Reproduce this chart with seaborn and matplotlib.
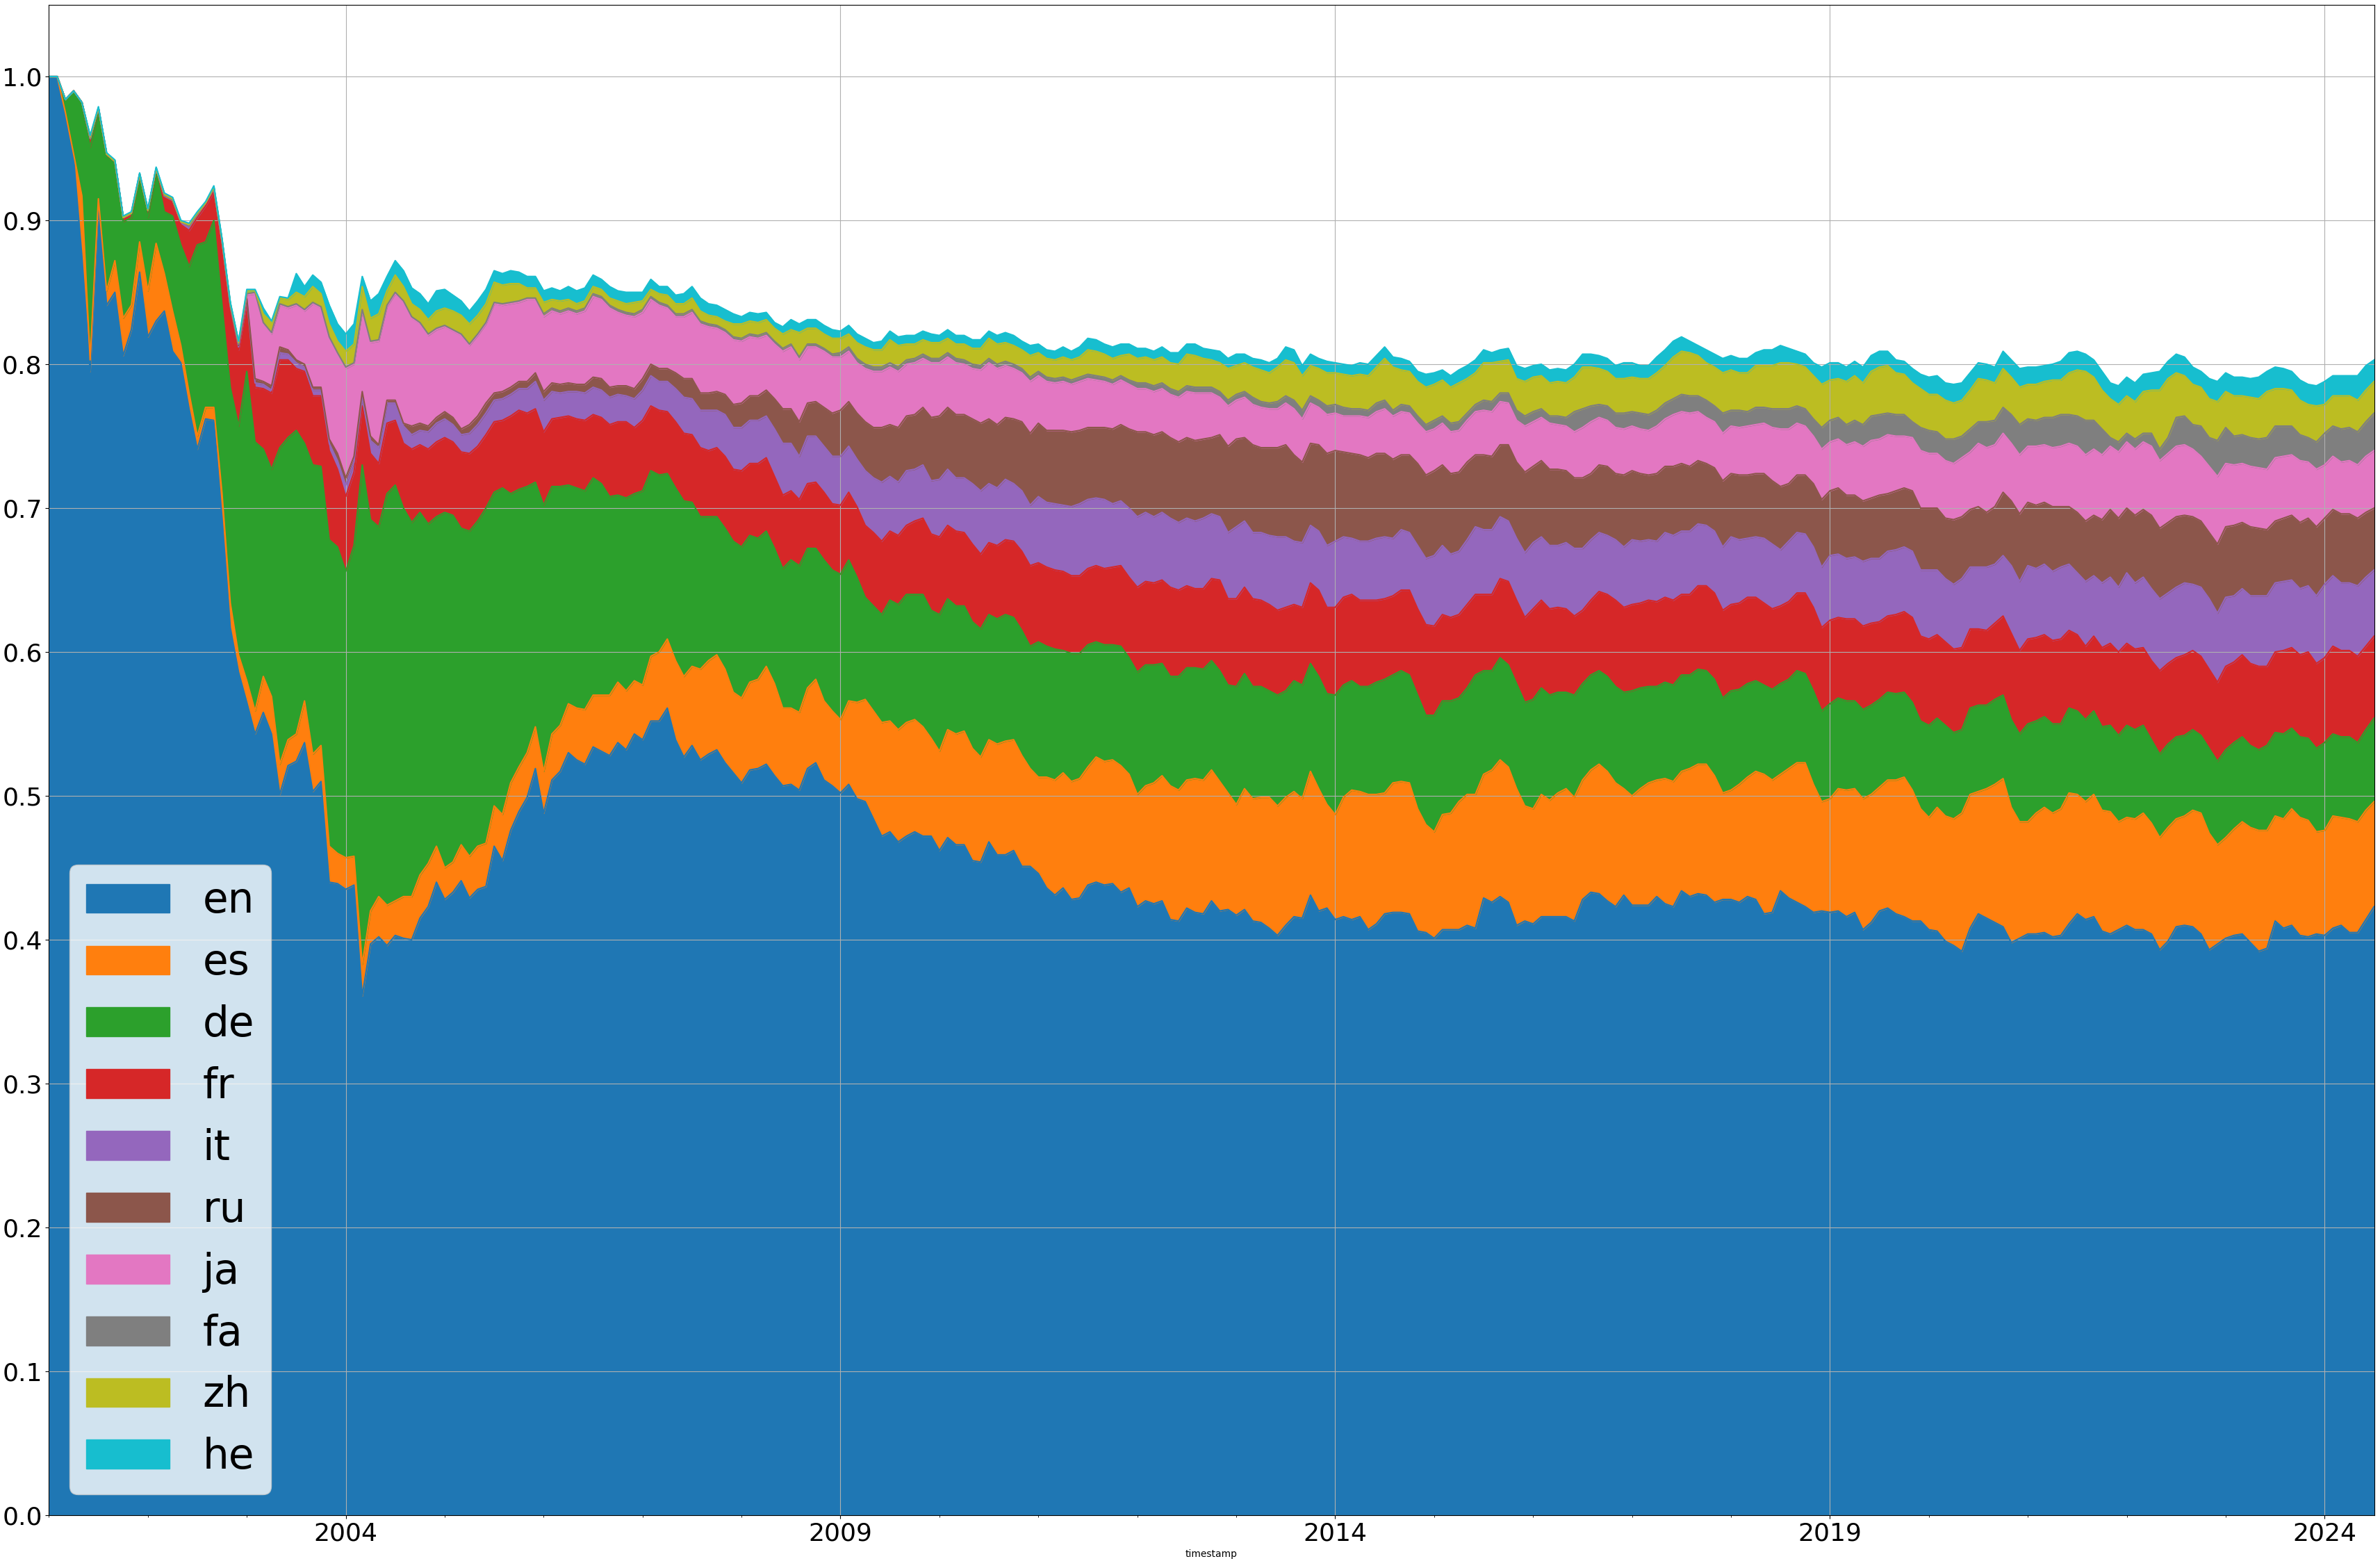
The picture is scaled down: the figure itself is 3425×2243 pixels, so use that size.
import numpy as np
import pandas as pd
import matplotlib
matplotlib.use("Agg")
import matplotlib.pyplot as plt
import matplotlib.patches as mpatches
from matplotlib.ticker import MultipleLocator
import seaborn as sns

# === DATI ===
# Livelli cumulativi (bordo superiore di ogni strato), un mese per valore,
# da gennaio 2001 a luglio 2024: una riga per anno.
languages = ["en", "es", "de", "fr", "it", "ru", "ja", "fa", "zh", "he"]
start_month = "2001-01-01"

en_top = [
    1.000, 1.000, 0.973, 0.943, 0.875, 0.795, 0.913, 0.841, 0.850, 0.806, 0.824, 0.864,
    0.819, 0.830, 0.837, 0.809, 0.801, 0.769, 0.741, 0.762, 0.761, 0.693, 0.617, 0.586,
    0.565, 0.543, 0.558, 0.543, 0.501, 0.521, 0.524, 0.537, 0.503, 0.510, 0.440, 0.439,
    0.435, 0.438, 0.361, 0.397, 0.402, 0.396, 0.403, 0.401, 0.400, 0.415, 0.423, 0.440,
    0.428, 0.433, 0.441, 0.429, 0.435, 0.437, 0.465, 0.455, 0.476, 0.489, 0.499, 0.519,
    0.488, 0.511, 0.517, 0.530, 0.525, 0.522, 0.534, 0.531, 0.528, 0.537, 0.532, 0.543,
    0.539, 0.552, 0.552, 0.561, 0.539, 0.527, 0.535, 0.525, 0.529, 0.532, 0.523, 0.516,
    0.509, 0.518, 0.519, 0.522, 0.514, 0.507, 0.508, 0.504, 0.519, 0.523, 0.511, 0.507,
    0.502, 0.508, 0.498, 0.496, 0.484, 0.472, 0.475, 0.468, 0.472, 0.475, 0.472, 0.472,
    0.462, 0.471, 0.466, 0.466, 0.455, 0.454, 0.468, 0.459, 0.459, 0.462, 0.451, 0.451,
    0.446, 0.436, 0.431, 0.436, 0.428, 0.429, 0.438, 0.440, 0.438, 0.439, 0.433, 0.436,
    0.423, 0.427, 0.425, 0.427, 0.414, 0.413, 0.422, 0.419, 0.418, 0.427, 0.420, 0.421,
    0.417, 0.421, 0.413, 0.412, 0.408, 0.403, 0.410, 0.416, 0.415, 0.431, 0.420, 0.422,
    0.414, 0.416, 0.414, 0.416, 0.407, 0.411, 0.418, 0.419, 0.419, 0.418, 0.406, 0.405,
    0.401, 0.407, 0.407, 0.407, 0.410, 0.408, 0.429, 0.426, 0.430, 0.426, 0.410, 0.413,
    0.411, 0.416, 0.416, 0.416, 0.416, 0.413, 0.428, 0.433, 0.432, 0.427, 0.423, 0.431,
    0.424, 0.424, 0.424, 0.430, 0.425, 0.423, 0.434, 0.430, 0.432, 0.431, 0.426, 0.428,
    0.428, 0.426, 0.430, 0.428, 0.418, 0.419, 0.434, 0.429, 0.426, 0.423, 0.419, 0.420,
    0.419, 0.420, 0.416, 0.419, 0.407, 0.412, 0.420, 0.422, 0.418, 0.416, 0.413, 0.413,
    0.407, 0.406, 0.399, 0.396, 0.392, 0.408, 0.418, 0.415, 0.412, 0.409, 0.398, 0.401,
    0.404, 0.404, 0.405, 0.402, 0.403, 0.411, 0.418, 0.414, 0.416, 0.406, 0.404, 0.407,
    0.410, 0.407, 0.407, 0.404, 0.393, 0.399, 0.409, 0.410, 0.409, 0.404, 0.393, 0.397,
    0.401, 0.403, 0.404, 0.398, 0.392, 0.394, 0.413, 0.408, 0.410, 0.403, 0.402, 0.404,
    0.403, 0.408, 0.410, 0.405, 0.405, 0.414, 0.423,
]

es_top = [
    1.000, 1.000, 0.975, 0.946, 0.917, 0.803, 0.915, 0.851, 0.872, 0.832, 0.841, 0.885,
    0.851, 0.884, 0.863, 0.837, 0.813, 0.780, 0.750, 0.770, 0.770, 0.710, 0.634, 0.598,
    0.580, 0.559, 0.583, 0.569, 0.522, 0.539, 0.543, 0.566, 0.529, 0.535, 0.465, 0.460,
    0.457, 0.458, 0.383, 0.420, 0.430, 0.424, 0.427, 0.430, 0.430, 0.445, 0.453, 0.465,
    0.450, 0.454, 0.466, 0.458, 0.465, 0.467, 0.493, 0.487, 0.509, 0.520, 0.530, 0.548,
    0.517, 0.543, 0.549, 0.564, 0.561, 0.560, 0.570, 0.570, 0.570, 0.579, 0.573, 0.580,
    0.577, 0.597, 0.600, 0.609, 0.594, 0.583, 0.590, 0.588, 0.594, 0.598, 0.588, 0.572,
    0.568, 0.579, 0.581, 0.590, 0.578, 0.561, 0.561, 0.558, 0.575, 0.581, 0.566, 0.559,
    0.553, 0.566, 0.565, 0.567, 0.559, 0.551, 0.552, 0.546, 0.551, 0.553, 0.548, 0.540,
    0.531, 0.546, 0.543, 0.545, 0.533, 0.527, 0.539, 0.536, 0.538, 0.539, 0.528, 0.519,
    0.513, 0.513, 0.511, 0.516, 0.510, 0.512, 0.520, 0.527, 0.524, 0.525, 0.521, 0.515,
    0.501, 0.507, 0.509, 0.514, 0.507, 0.504, 0.511, 0.512, 0.511, 0.518, 0.510, 0.502,
    0.494, 0.505, 0.498, 0.499, 0.499, 0.493, 0.499, 0.503, 0.498, 0.517, 0.505, 0.494,
    0.487, 0.499, 0.504, 0.503, 0.501, 0.501, 0.502, 0.509, 0.510, 0.509, 0.491, 0.480,
    0.475, 0.487, 0.488, 0.496, 0.501, 0.501, 0.515, 0.518, 0.525, 0.520, 0.505, 0.493,
    0.491, 0.501, 0.497, 0.502, 0.505, 0.499, 0.511, 0.518, 0.522, 0.517, 0.509, 0.505,
    0.500, 0.505, 0.509, 0.511, 0.512, 0.510, 0.517, 0.519, 0.522, 0.522, 0.514, 0.502,
    0.504, 0.508, 0.513, 0.517, 0.515, 0.511, 0.515, 0.519, 0.523, 0.523, 0.508, 0.496,
    0.498, 0.505, 0.504, 0.505, 0.498, 0.501, 0.506, 0.511, 0.511, 0.513, 0.504, 0.491,
    0.485, 0.492, 0.486, 0.484, 0.488, 0.501, 0.503, 0.505, 0.508, 0.512, 0.492, 0.482,
    0.482, 0.488, 0.492, 0.488, 0.491, 0.502, 0.501, 0.496, 0.501, 0.490, 0.489, 0.482,
    0.485, 0.484, 0.488, 0.481, 0.471, 0.478, 0.484, 0.486, 0.490, 0.488, 0.474, 0.466,
    0.471, 0.477, 0.482, 0.478, 0.476, 0.476, 0.486, 0.484, 0.491, 0.485, 0.483, 0.475,
    0.476, 0.486, 0.485, 0.484, 0.482, 0.490, 0.496,
]

de_top = [
    1.000, 1.000, 0.984, 0.990, 0.982, 0.951, 0.976, 0.944, 0.941, 0.899, 0.902, 0.932,
    0.902, 0.934, 0.906, 0.903, 0.883, 0.868, 0.883, 0.885, 0.900, 0.841, 0.784, 0.757,
    0.795, 0.746, 0.741, 0.727, 0.742, 0.749, 0.754, 0.745, 0.730, 0.729, 0.678, 0.673,
    0.656, 0.674, 0.730, 0.692, 0.687, 0.710, 0.716, 0.700, 0.690, 0.697, 0.689, 0.694,
    0.697, 0.695, 0.686, 0.684, 0.691, 0.700, 0.711, 0.714, 0.710, 0.713, 0.715, 0.718,
    0.702, 0.715, 0.715, 0.716, 0.714, 0.712, 0.721, 0.717, 0.708, 0.709, 0.707, 0.710,
    0.712, 0.726, 0.723, 0.724, 0.714, 0.705, 0.704, 0.694, 0.694, 0.694, 0.686, 0.677,
    0.673, 0.681, 0.679, 0.684, 0.672, 0.658, 0.664, 0.660, 0.672, 0.672, 0.664, 0.657,
    0.654, 0.664, 0.652, 0.638, 0.632, 0.626, 0.636, 0.633, 0.640, 0.640, 0.640, 0.629,
    0.626, 0.637, 0.632, 0.632, 0.621, 0.616, 0.626, 0.623, 0.626, 0.624, 0.615, 0.604,
    0.607, 0.604, 0.602, 0.601, 0.599, 0.599, 0.605, 0.607, 0.605, 0.605, 0.604, 0.596,
    0.586, 0.591, 0.591, 0.592, 0.583, 0.583, 0.589, 0.589, 0.588, 0.594, 0.587, 0.577,
    0.576, 0.585, 0.576, 0.576, 0.573, 0.570, 0.573, 0.580, 0.577, 0.592, 0.583, 0.571,
    0.570, 0.577, 0.580, 0.576, 0.576, 0.579, 0.581, 0.584, 0.587, 0.584, 0.570, 0.556,
    0.556, 0.566, 0.566, 0.568, 0.575, 0.584, 0.587, 0.587, 0.596, 0.591, 0.578, 0.565,
    0.567, 0.575, 0.570, 0.572, 0.572, 0.570, 0.578, 0.584, 0.587, 0.583, 0.576, 0.572,
    0.573, 0.575, 0.576, 0.576, 0.579, 0.577, 0.584, 0.584, 0.588, 0.587, 0.581, 0.568,
    0.573, 0.574, 0.578, 0.580, 0.577, 0.574, 0.578, 0.581, 0.587, 0.585, 0.573, 0.559,
    0.564, 0.568, 0.566, 0.566, 0.560, 0.563, 0.567, 0.572, 0.571, 0.572, 0.565, 0.552,
    0.549, 0.554, 0.549, 0.544, 0.546, 0.561, 0.563, 0.563, 0.567, 0.570, 0.553, 0.543,
    0.550, 0.552, 0.555, 0.550, 0.550, 0.561, 0.559, 0.553, 0.559, 0.548, 0.549, 0.542,
    0.549, 0.546, 0.549, 0.539, 0.529, 0.536, 0.541, 0.542, 0.546, 0.542, 0.533, 0.524,
    0.532, 0.537, 0.541, 0.535, 0.532, 0.535, 0.544, 0.543, 0.547, 0.541, 0.540, 0.533,
    0.537, 0.543, 0.541, 0.541, 0.537, 0.546, 0.554,
]

fr_top = [
    1.000, 1.000, 0.984, 0.990, 0.982, 0.957, 0.978, 0.946, 0.941, 0.902, 0.905, 0.932,
    0.907, 0.936, 0.917, 0.914, 0.897, 0.893, 0.902, 0.910, 0.920, 0.883, 0.838, 0.810,
    0.843, 0.784, 0.783, 0.780, 0.803, 0.803, 0.797, 0.795, 0.778, 0.778, 0.740, 0.727,
    0.708, 0.725, 0.771, 0.738, 0.731, 0.759, 0.761, 0.745, 0.741, 0.744, 0.741, 0.746,
    0.749, 0.746, 0.739, 0.738, 0.743, 0.751, 0.760, 0.761, 0.764, 0.768, 0.766, 0.769,
    0.753, 0.762, 0.763, 0.764, 0.762, 0.761, 0.765, 0.763, 0.758, 0.760, 0.760, 0.756,
    0.761, 0.771, 0.768, 0.767, 0.760, 0.752, 0.751, 0.742, 0.740, 0.742, 0.736, 0.727,
    0.726, 0.731, 0.731, 0.735, 0.722, 0.709, 0.712, 0.706, 0.717, 0.718, 0.711, 0.703,
    0.702, 0.711, 0.701, 0.688, 0.683, 0.677, 0.684, 0.681, 0.688, 0.691, 0.693, 0.682,
    0.680, 0.688, 0.684, 0.683, 0.675, 0.668, 0.676, 0.674, 0.678, 0.677, 0.670, 0.660,
    0.662, 0.659, 0.657, 0.656, 0.653, 0.653, 0.658, 0.660, 0.658, 0.659, 0.660, 0.652,
    0.645, 0.649, 0.648, 0.650, 0.645, 0.643, 0.646, 0.644, 0.644, 0.651, 0.650, 0.637,
    0.637, 0.645, 0.637, 0.636, 0.633, 0.629, 0.631, 0.633, 0.631, 0.648, 0.643, 0.631,
    0.631, 0.638, 0.640, 0.636, 0.636, 0.636, 0.637, 0.639, 0.643, 0.643, 0.630, 0.619,
    0.618, 0.626, 0.624, 0.626, 0.633, 0.640, 0.640, 0.640, 0.651, 0.649, 0.636, 0.624,
    0.630, 0.636, 0.630, 0.631, 0.630, 0.625, 0.629, 0.636, 0.642, 0.640, 0.636, 0.631,
    0.633, 0.634, 0.636, 0.635, 0.638, 0.636, 0.640, 0.640, 0.646, 0.646, 0.641, 0.629,
    0.633, 0.634, 0.638, 0.638, 0.634, 0.630, 0.632, 0.635, 0.641, 0.641, 0.631, 0.617,
    0.622, 0.624, 0.623, 0.623, 0.618, 0.620, 0.621, 0.625, 0.626, 0.628, 0.624, 0.611,
    0.609, 0.612, 0.607, 0.602, 0.603, 0.616, 0.616, 0.615, 0.620, 0.625, 0.613, 0.601,
    0.609, 0.610, 0.612, 0.608, 0.609, 0.615, 0.612, 0.604, 0.611, 0.603, 0.606, 0.600,
    0.606, 0.602, 0.603, 0.594, 0.587, 0.592, 0.596, 0.598, 0.601, 0.597, 0.588, 0.579,
    0.590, 0.593, 0.598, 0.592, 0.590, 0.590, 0.600, 0.601, 0.603, 0.598, 0.600, 0.592,
    0.596, 0.604, 0.601, 0.601, 0.597, 0.604, 0.611,
]

it_top = [
    1.000, 1.000, 0.984, 0.990, 0.982, 0.957, 0.978, 0.946, 0.941, 0.902, 0.905, 0.932,
    0.907, 0.936, 0.917, 0.914, 0.899, 0.896, 0.904, 0.912, 0.922, 0.885, 0.840, 0.812,
    0.845, 0.787, 0.786, 0.782, 0.808, 0.807, 0.801, 0.798, 0.782, 0.782, 0.745, 0.733,
    0.716, 0.732, 0.777, 0.747, 0.742, 0.773, 0.773, 0.757, 0.751, 0.754, 0.753, 0.759,
    0.762, 0.758, 0.751, 0.752, 0.758, 0.766, 0.775, 0.776, 0.779, 0.783, 0.783, 0.788,
    0.775, 0.781, 0.780, 0.781, 0.781, 0.780, 0.784, 0.782, 0.777, 0.779, 0.778, 0.776,
    0.782, 0.792, 0.788, 0.788, 0.783, 0.777, 0.776, 0.768, 0.768, 0.768, 0.765, 0.756,
    0.756, 0.761, 0.761, 0.764, 0.755, 0.745, 0.745, 0.736, 0.750, 0.750, 0.743, 0.736,
    0.736, 0.743, 0.734, 0.726, 0.721, 0.718, 0.722, 0.718, 0.726, 0.727, 0.730, 0.719,
    0.720, 0.727, 0.721, 0.721, 0.717, 0.712, 0.717, 0.714, 0.720, 0.717, 0.712, 0.702,
    0.708, 0.704, 0.703, 0.702, 0.701, 0.703, 0.706, 0.707, 0.706, 0.703, 0.705, 0.700,
    0.694, 0.697, 0.694, 0.697, 0.693, 0.690, 0.693, 0.691, 0.693, 0.696, 0.694, 0.683,
    0.687, 0.691, 0.683, 0.683, 0.681, 0.680, 0.680, 0.677, 0.676, 0.688, 0.684, 0.674,
    0.677, 0.680, 0.679, 0.677, 0.677, 0.679, 0.680, 0.679, 0.685, 0.683, 0.674, 0.665,
    0.667, 0.674, 0.668, 0.670, 0.678, 0.687, 0.685, 0.685, 0.694, 0.691, 0.679, 0.669,
    0.676, 0.680, 0.674, 0.674, 0.676, 0.672, 0.672, 0.678, 0.683, 0.681, 0.678, 0.673,
    0.678, 0.677, 0.678, 0.677, 0.683, 0.681, 0.684, 0.684, 0.689, 0.688, 0.684, 0.673,
    0.680, 0.678, 0.679, 0.680, 0.679, 0.675, 0.671, 0.677, 0.683, 0.682, 0.673, 0.659,
    0.667, 0.668, 0.665, 0.666, 0.663, 0.665, 0.665, 0.670, 0.671, 0.673, 0.670, 0.657,
    0.657, 0.657, 0.651, 0.647, 0.651, 0.659, 0.659, 0.659, 0.661, 0.667, 0.660, 0.649,
    0.660, 0.658, 0.661, 0.656, 0.659, 0.661, 0.655, 0.649, 0.653, 0.648, 0.652, 0.645,
    0.655, 0.648, 0.652, 0.644, 0.637, 0.641, 0.645, 0.648, 0.647, 0.645, 0.637, 0.627,
    0.638, 0.639, 0.644, 0.639, 0.639, 0.639, 0.648, 0.649, 0.650, 0.644, 0.646, 0.639,
    0.647, 0.653, 0.648, 0.648, 0.646, 0.652, 0.657,
]

ru_top = [
    1.000, 1.000, 0.984, 0.990, 0.982, 0.957, 0.978, 0.946, 0.941, 0.902, 0.905, 0.932,
    0.907, 0.936, 0.917, 0.914, 0.899, 0.896, 0.904, 0.912, 0.922, 0.885, 0.840, 0.813,
    0.846, 0.790, 0.788, 0.785, 0.812, 0.810, 0.803, 0.800, 0.784, 0.784, 0.748, 0.738,
    0.721, 0.736, 0.781, 0.750, 0.744, 0.775, 0.775, 0.759, 0.757, 0.759, 0.757, 0.763,
    0.767, 0.763, 0.755, 0.758, 0.764, 0.773, 0.780, 0.781, 0.784, 0.788, 0.788, 0.794,
    0.781, 0.787, 0.786, 0.787, 0.786, 0.786, 0.791, 0.790, 0.784, 0.785, 0.785, 0.783,
    0.790, 0.800, 0.797, 0.797, 0.794, 0.790, 0.790, 0.780, 0.780, 0.781, 0.779, 0.772,
    0.773, 0.778, 0.778, 0.782, 0.776, 0.769, 0.769, 0.760, 0.773, 0.774, 0.770, 0.766,
    0.768, 0.774, 0.766, 0.760, 0.756, 0.756, 0.758, 0.756, 0.764, 0.765, 0.770, 0.763,
    0.764, 0.770, 0.765, 0.765, 0.762, 0.759, 0.762, 0.758, 0.763, 0.762, 0.760, 0.752,
    0.759, 0.754, 0.754, 0.754, 0.753, 0.754, 0.756, 0.756, 0.756, 0.755, 0.758, 0.755,
    0.753, 0.753, 0.751, 0.753, 0.749, 0.746, 0.749, 0.747, 0.748, 0.749, 0.751, 0.743,
    0.748, 0.749, 0.744, 0.742, 0.742, 0.742, 0.744, 0.737, 0.732, 0.745, 0.744, 0.738,
    0.740, 0.739, 0.738, 0.737, 0.735, 0.738, 0.738, 0.734, 0.737, 0.737, 0.731, 0.723,
    0.726, 0.730, 0.724, 0.725, 0.732, 0.737, 0.737, 0.736, 0.744, 0.744, 0.732, 0.725,
    0.729, 0.733, 0.727, 0.727, 0.726, 0.721, 0.721, 0.724, 0.730, 0.729, 0.724, 0.723,
    0.726, 0.724, 0.723, 0.724, 0.729, 0.729, 0.731, 0.729, 0.733, 0.731, 0.728, 0.719,
    0.724, 0.723, 0.723, 0.724, 0.724, 0.719, 0.715, 0.717, 0.723, 0.723, 0.717, 0.706,
    0.712, 0.714, 0.709, 0.709, 0.705, 0.707, 0.709, 0.710, 0.712, 0.714, 0.712, 0.700,
    0.700, 0.700, 0.693, 0.692, 0.694, 0.699, 0.701, 0.697, 0.701, 0.711, 0.705, 0.696,
    0.704, 0.702, 0.704, 0.701, 0.701, 0.701, 0.697, 0.691, 0.695, 0.692, 0.699, 0.693,
    0.700, 0.695, 0.699, 0.695, 0.686, 0.690, 0.694, 0.695, 0.694, 0.691, 0.683, 0.675,
    0.687, 0.688, 0.690, 0.687, 0.686, 0.685, 0.691, 0.693, 0.695, 0.690, 0.693, 0.687,
    0.693, 0.699, 0.696, 0.696, 0.693, 0.697, 0.700,
]

ja_top = [
    1.000, 1.000, 0.984, 0.990, 0.982, 0.957, 0.978, 0.946, 0.941, 0.902, 0.905, 0.932,
    0.907, 0.936, 0.917, 0.914, 0.899, 0.896, 0.904, 0.912, 0.922, 0.885, 0.841, 0.814,
    0.848, 0.849, 0.828, 0.821, 0.841, 0.839, 0.841, 0.837, 0.842, 0.839, 0.818, 0.807,
    0.797, 0.800, 0.837, 0.815, 0.816, 0.840, 0.849, 0.843, 0.832, 0.828, 0.820, 0.824,
    0.826, 0.823, 0.820, 0.813, 0.820, 0.828, 0.842, 0.841, 0.842, 0.843, 0.845, 0.845,
    0.833, 0.837, 0.835, 0.837, 0.835, 0.837, 0.847, 0.845, 0.839, 0.836, 0.834, 0.833,
    0.836, 0.845, 0.841, 0.839, 0.833, 0.833, 0.836, 0.828, 0.826, 0.825, 0.822, 0.817,
    0.816, 0.819, 0.818, 0.820, 0.814, 0.809, 0.812, 0.803, 0.812, 0.812, 0.809, 0.805,
    0.805, 0.809, 0.801, 0.797, 0.795, 0.795, 0.798, 0.795, 0.800, 0.801, 0.804, 0.801,
    0.801, 0.805, 0.801, 0.800, 0.797, 0.796, 0.801, 0.797, 0.799, 0.797, 0.794, 0.788,
    0.792, 0.788, 0.787, 0.788, 0.786, 0.788, 0.790, 0.789, 0.788, 0.786, 0.789, 0.786,
    0.783, 0.783, 0.781, 0.783, 0.779, 0.777, 0.781, 0.780, 0.780, 0.780, 0.777, 0.771,
    0.775, 0.777, 0.772, 0.770, 0.769, 0.769, 0.773, 0.769, 0.762, 0.773, 0.770, 0.765,
    0.766, 0.764, 0.764, 0.764, 0.763, 0.767, 0.769, 0.764, 0.767, 0.766, 0.759, 0.753,
    0.755, 0.759, 0.753, 0.754, 0.761, 0.767, 0.768, 0.767, 0.774, 0.773, 0.761, 0.757,
    0.760, 0.763, 0.759, 0.758, 0.757, 0.753, 0.756, 0.760, 0.763, 0.761, 0.756, 0.755,
    0.757, 0.755, 0.754, 0.757, 0.762, 0.765, 0.767, 0.766, 0.767, 0.763, 0.760, 0.752,
    0.757, 0.756, 0.757, 0.758, 0.759, 0.756, 0.755, 0.755, 0.759, 0.757, 0.750, 0.741,
    0.746, 0.748, 0.744, 0.746, 0.743, 0.747, 0.748, 0.751, 0.750, 0.750, 0.749, 0.740,
    0.738, 0.738, 0.733, 0.731, 0.735, 0.739, 0.745, 0.742, 0.744, 0.752, 0.745, 0.737,
    0.743, 0.743, 0.744, 0.742, 0.743, 0.745, 0.743, 0.737, 0.741, 0.737, 0.743, 0.739,
    0.746, 0.741, 0.746, 0.743, 0.733, 0.738, 0.743, 0.744, 0.741, 0.736, 0.729, 0.722,
    0.731, 0.730, 0.731, 0.729, 0.728, 0.727, 0.735, 0.736, 0.737, 0.733, 0.732, 0.727,
    0.730, 0.736, 0.732, 0.733, 0.730, 0.736, 0.740,
]

fa_top = [
    1.000, 1.000, 0.984, 0.990, 0.982, 0.957, 0.978, 0.946, 0.941, 0.902, 0.905, 0.932,
    0.907, 0.936, 0.917, 0.914, 0.899, 0.896, 0.904, 0.912, 0.922, 0.885, 0.841, 0.814,
    0.849, 0.850, 0.829, 0.822, 0.842, 0.840, 0.842, 0.838, 0.843, 0.840, 0.819, 0.808,
    0.798, 0.801, 0.838, 0.816, 0.817, 0.841, 0.850, 0.844, 0.833, 0.829, 0.821, 0.825,
    0.827, 0.824, 0.821, 0.814, 0.821, 0.829, 0.843, 0.842, 0.843, 0.844, 0.846, 0.846,
    0.835, 0.839, 0.837, 0.839, 0.837, 0.839, 0.849, 0.847, 0.841, 0.838, 0.836, 0.835,
    0.838, 0.847, 0.843, 0.841, 0.835, 0.835, 0.838, 0.830, 0.828, 0.827, 0.824, 0.819,
    0.818, 0.821, 0.820, 0.822, 0.816, 0.811, 0.814, 0.805, 0.814, 0.814, 0.811, 0.807,
    0.808, 0.812, 0.804, 0.800, 0.798, 0.798, 0.801, 0.798, 0.803, 0.804, 0.807, 0.804,
    0.804, 0.808, 0.804, 0.803, 0.800, 0.799, 0.804, 0.800, 0.802, 0.800, 0.797, 0.791,
    0.795, 0.791, 0.790, 0.791, 0.789, 0.791, 0.793, 0.792, 0.791, 0.789, 0.792, 0.789,
    0.787, 0.787, 0.785, 0.787, 0.783, 0.781, 0.785, 0.784, 0.784, 0.784, 0.781, 0.775,
    0.779, 0.781, 0.777, 0.774, 0.773, 0.774, 0.778, 0.775, 0.768, 0.778, 0.775, 0.771,
    0.772, 0.770, 0.769, 0.769, 0.768, 0.773, 0.775, 0.768, 0.772, 0.771, 0.764, 0.758,
    0.761, 0.764, 0.759, 0.760, 0.766, 0.772, 0.775, 0.774, 0.780, 0.780, 0.768, 0.764,
    0.767, 0.769, 0.764, 0.764, 0.763, 0.767, 0.769, 0.771, 0.772, 0.771, 0.766, 0.766,
    0.767, 0.766, 0.765, 0.768, 0.773, 0.776, 0.779, 0.778, 0.778, 0.775, 0.771, 0.766,
    0.768, 0.768, 0.767, 0.770, 0.770, 0.769, 0.769, 0.769, 0.771, 0.769, 0.762, 0.756,
    0.761, 0.763, 0.758, 0.761, 0.758, 0.764, 0.765, 0.766, 0.765, 0.765, 0.760, 0.756,
    0.754, 0.753, 0.748, 0.748, 0.750, 0.755, 0.760, 0.760, 0.761, 0.770, 0.765, 0.758,
    0.762, 0.761, 0.763, 0.763, 0.765, 0.765, 0.764, 0.761, 0.761, 0.755, 0.749, 0.746,
    0.752, 0.748, 0.752, 0.752, 0.741, 0.749, 0.763, 0.764, 0.758, 0.757, 0.749, 0.747,
    0.756, 0.750, 0.751, 0.749, 0.748, 0.749, 0.757, 0.757, 0.757, 0.751, 0.749, 0.746,
    0.752, 0.757, 0.755, 0.756, 0.753, 0.760, 0.766,
]

zh_top = [
    1.000, 1.000, 0.984, 0.990, 0.982, 0.958, 0.978, 0.946, 0.941, 0.902, 0.905, 0.932,
    0.907, 0.936, 0.918, 0.915, 0.899, 0.897, 0.905, 0.912, 0.923, 0.886, 0.842, 0.815,
    0.851, 0.851, 0.835, 0.829, 0.846, 0.845, 0.850, 0.847, 0.854, 0.849, 0.828, 0.816,
    0.809, 0.814, 0.854, 0.832, 0.835, 0.851, 0.862, 0.854, 0.842, 0.838, 0.831, 0.837,
    0.839, 0.837, 0.834, 0.828, 0.834, 0.842, 0.857, 0.855, 0.856, 0.856, 0.853, 0.853,
    0.843, 0.845, 0.844, 0.845, 0.842, 0.844, 0.854, 0.852, 0.846, 0.844, 0.842, 0.843,
    0.844, 0.852, 0.849, 0.848, 0.842, 0.842, 0.846, 0.837, 0.834, 0.833, 0.830, 0.828,
    0.828, 0.830, 0.829, 0.831, 0.825, 0.821, 0.824, 0.822, 0.825, 0.825, 0.821, 0.818,
    0.818, 0.821, 0.815, 0.812, 0.810, 0.810, 0.817, 0.813, 0.814, 0.814, 0.817, 0.815,
    0.815, 0.818, 0.814, 0.814, 0.811, 0.811, 0.818, 0.814, 0.815, 0.813, 0.810, 0.806,
    0.808, 0.804, 0.803, 0.805, 0.803, 0.805, 0.810, 0.809, 0.807, 0.804, 0.806, 0.807,
    0.804, 0.805, 0.803, 0.805, 0.801, 0.800, 0.807, 0.806, 0.804, 0.803, 0.801, 0.797,
    0.799, 0.801, 0.798, 0.796, 0.794, 0.798, 0.803, 0.801, 0.792, 0.799, 0.797, 0.794,
    0.794, 0.793, 0.792, 0.793, 0.792, 0.798, 0.804, 0.798, 0.796, 0.795, 0.788, 0.784,
    0.786, 0.789, 0.784, 0.787, 0.790, 0.794, 0.801, 0.801, 0.802, 0.803, 0.790, 0.788,
    0.791, 0.792, 0.787, 0.788, 0.787, 0.791, 0.798, 0.798, 0.797, 0.795, 0.790, 0.790,
    0.791, 0.790, 0.790, 0.794, 0.799, 0.805, 0.809, 0.808, 0.806, 0.801, 0.798, 0.794,
    0.796, 0.794, 0.794, 0.799, 0.799, 0.799, 0.801, 0.801, 0.800, 0.798, 0.792, 0.786,
    0.789, 0.790, 0.788, 0.792, 0.787, 0.795, 0.798, 0.799, 0.794, 0.793, 0.787, 0.783,
    0.779, 0.779, 0.775, 0.773, 0.775, 0.782, 0.790, 0.789, 0.787, 0.797, 0.791, 0.784,
    0.786, 0.786, 0.788, 0.789, 0.789, 0.794, 0.796, 0.795, 0.791, 0.782, 0.776, 0.772,
    0.778, 0.774, 0.781, 0.782, 0.782, 0.790, 0.794, 0.792, 0.786, 0.784, 0.776, 0.774,
    0.781, 0.778, 0.778, 0.777, 0.776, 0.781, 0.783, 0.783, 0.782, 0.775, 0.772, 0.771,
    0.772, 0.778, 0.778, 0.778, 0.775, 0.782, 0.788,
]

he_top = [
    1.000, 1.000, 0.984, 0.990, 0.982, 0.959, 0.979, 0.947, 0.942, 0.903, 0.906, 0.933,
    0.908, 0.937, 0.919, 0.916, 0.900, 0.898, 0.906, 0.913, 0.924, 0.887, 0.843, 0.816,
    0.852, 0.852, 0.839, 0.830, 0.847, 0.846, 0.863, 0.854, 0.862, 0.857, 0.841, 0.828,
    0.821, 0.828, 0.861, 0.844, 0.849, 0.861, 0.872, 0.865, 0.853, 0.849, 0.842, 0.851,
    0.852, 0.848, 0.844, 0.837, 0.844, 0.852, 0.865, 0.863, 0.865, 0.864, 0.861, 0.861,
    0.851, 0.853, 0.851, 0.854, 0.851, 0.853, 0.862, 0.859, 0.854, 0.851, 0.850, 0.850,
    0.850, 0.859, 0.854, 0.854, 0.848, 0.849, 0.854, 0.846, 0.842, 0.841, 0.838, 0.835,
    0.833, 0.836, 0.835, 0.836, 0.829, 0.826, 0.831, 0.828, 0.831, 0.831, 0.827, 0.824,
    0.823, 0.827, 0.821, 0.818, 0.815, 0.816, 0.823, 0.819, 0.820, 0.820, 0.823, 0.821,
    0.820, 0.824, 0.820, 0.820, 0.817, 0.817, 0.823, 0.820, 0.822, 0.820, 0.816, 0.813,
    0.814, 0.810, 0.809, 0.812, 0.809, 0.812, 0.818, 0.817, 0.814, 0.812, 0.814, 0.814,
    0.811, 0.811, 0.809, 0.812, 0.808, 0.808, 0.814, 0.814, 0.811, 0.810, 0.809, 0.804,
    0.807, 0.807, 0.804, 0.803, 0.801, 0.804, 0.812, 0.810, 0.799, 0.807, 0.804, 0.802,
    0.801, 0.800, 0.799, 0.801, 0.800, 0.806, 0.812, 0.805, 0.804, 0.802, 0.795, 0.793,
    0.794, 0.796, 0.792, 0.796, 0.799, 0.803, 0.810, 0.808, 0.810, 0.811, 0.799, 0.797,
    0.799, 0.800, 0.796, 0.797, 0.796, 0.800, 0.807, 0.807, 0.806, 0.804, 0.799, 0.801,
    0.801, 0.799, 0.799, 0.805, 0.810, 0.816, 0.819, 0.816, 0.813, 0.810, 0.807, 0.804,
    0.806, 0.804, 0.804, 0.808, 0.810, 0.810, 0.813, 0.811, 0.809, 0.807, 0.801, 0.798,
    0.801, 0.801, 0.798, 0.802, 0.798, 0.806, 0.809, 0.809, 0.803, 0.802, 0.797, 0.793,
    0.791, 0.792, 0.787, 0.786, 0.787, 0.794, 0.801, 0.800, 0.798, 0.809, 0.803, 0.797,
    0.798, 0.798, 0.799, 0.800, 0.802, 0.808, 0.809, 0.807, 0.803, 0.795, 0.787, 0.785,
    0.791, 0.787, 0.793, 0.794, 0.795, 0.802, 0.807, 0.805, 0.798, 0.795, 0.790, 0.788,
    0.794, 0.791, 0.791, 0.790, 0.791, 0.795, 0.798, 0.797, 0.795, 0.789, 0.786, 0.785,
    0.788, 0.792, 0.792, 0.792, 0.792, 0.799, 0.803,
]

# === TABELLA: quota di ogni lingua = differenza tra livelli cumulativi ===
tops = np.array([en_top, es_top, de_top, fr_top, it_top,
                 ru_top, ja_top, fa_top, zh_top, he_top])
shares = np.diff(np.vstack([np.zeros(tops.shape[1]), tops]), axis=0).clip(min=0)

index = pd.date_range(start_month, periods=tops.shape[1], freq="MS", name="timestamp")
df = pd.DataFrame(shares.T, index=index, columns=languages)

# === GRAFICO ===
palette = sns.color_palette("tab10", len(languages))

fig = plt.figure(figsize=(34.25, 22.43), dpi=100)
ax = fig.add_axes([0.02055, 0.02809, 0.97697, 0.96901])

df.plot.area(ax=ax, color=palette, legend=False)

# tacche ogni 0.1 sull'asse y come nell'originale
ax.yaxis.set_major_locator(MultipleLocator(0.1))
ax.grid(True)
ax.tick_params(axis="both", which="major", labelsize=26)

handles = [mpatches.Patch(color=c, label=l) for c, l in zip(palette, languages)]
ax.legend(handles=handles, loc="lower left", fontsize=43)

fig.savefig("out.png", dpi=100)
